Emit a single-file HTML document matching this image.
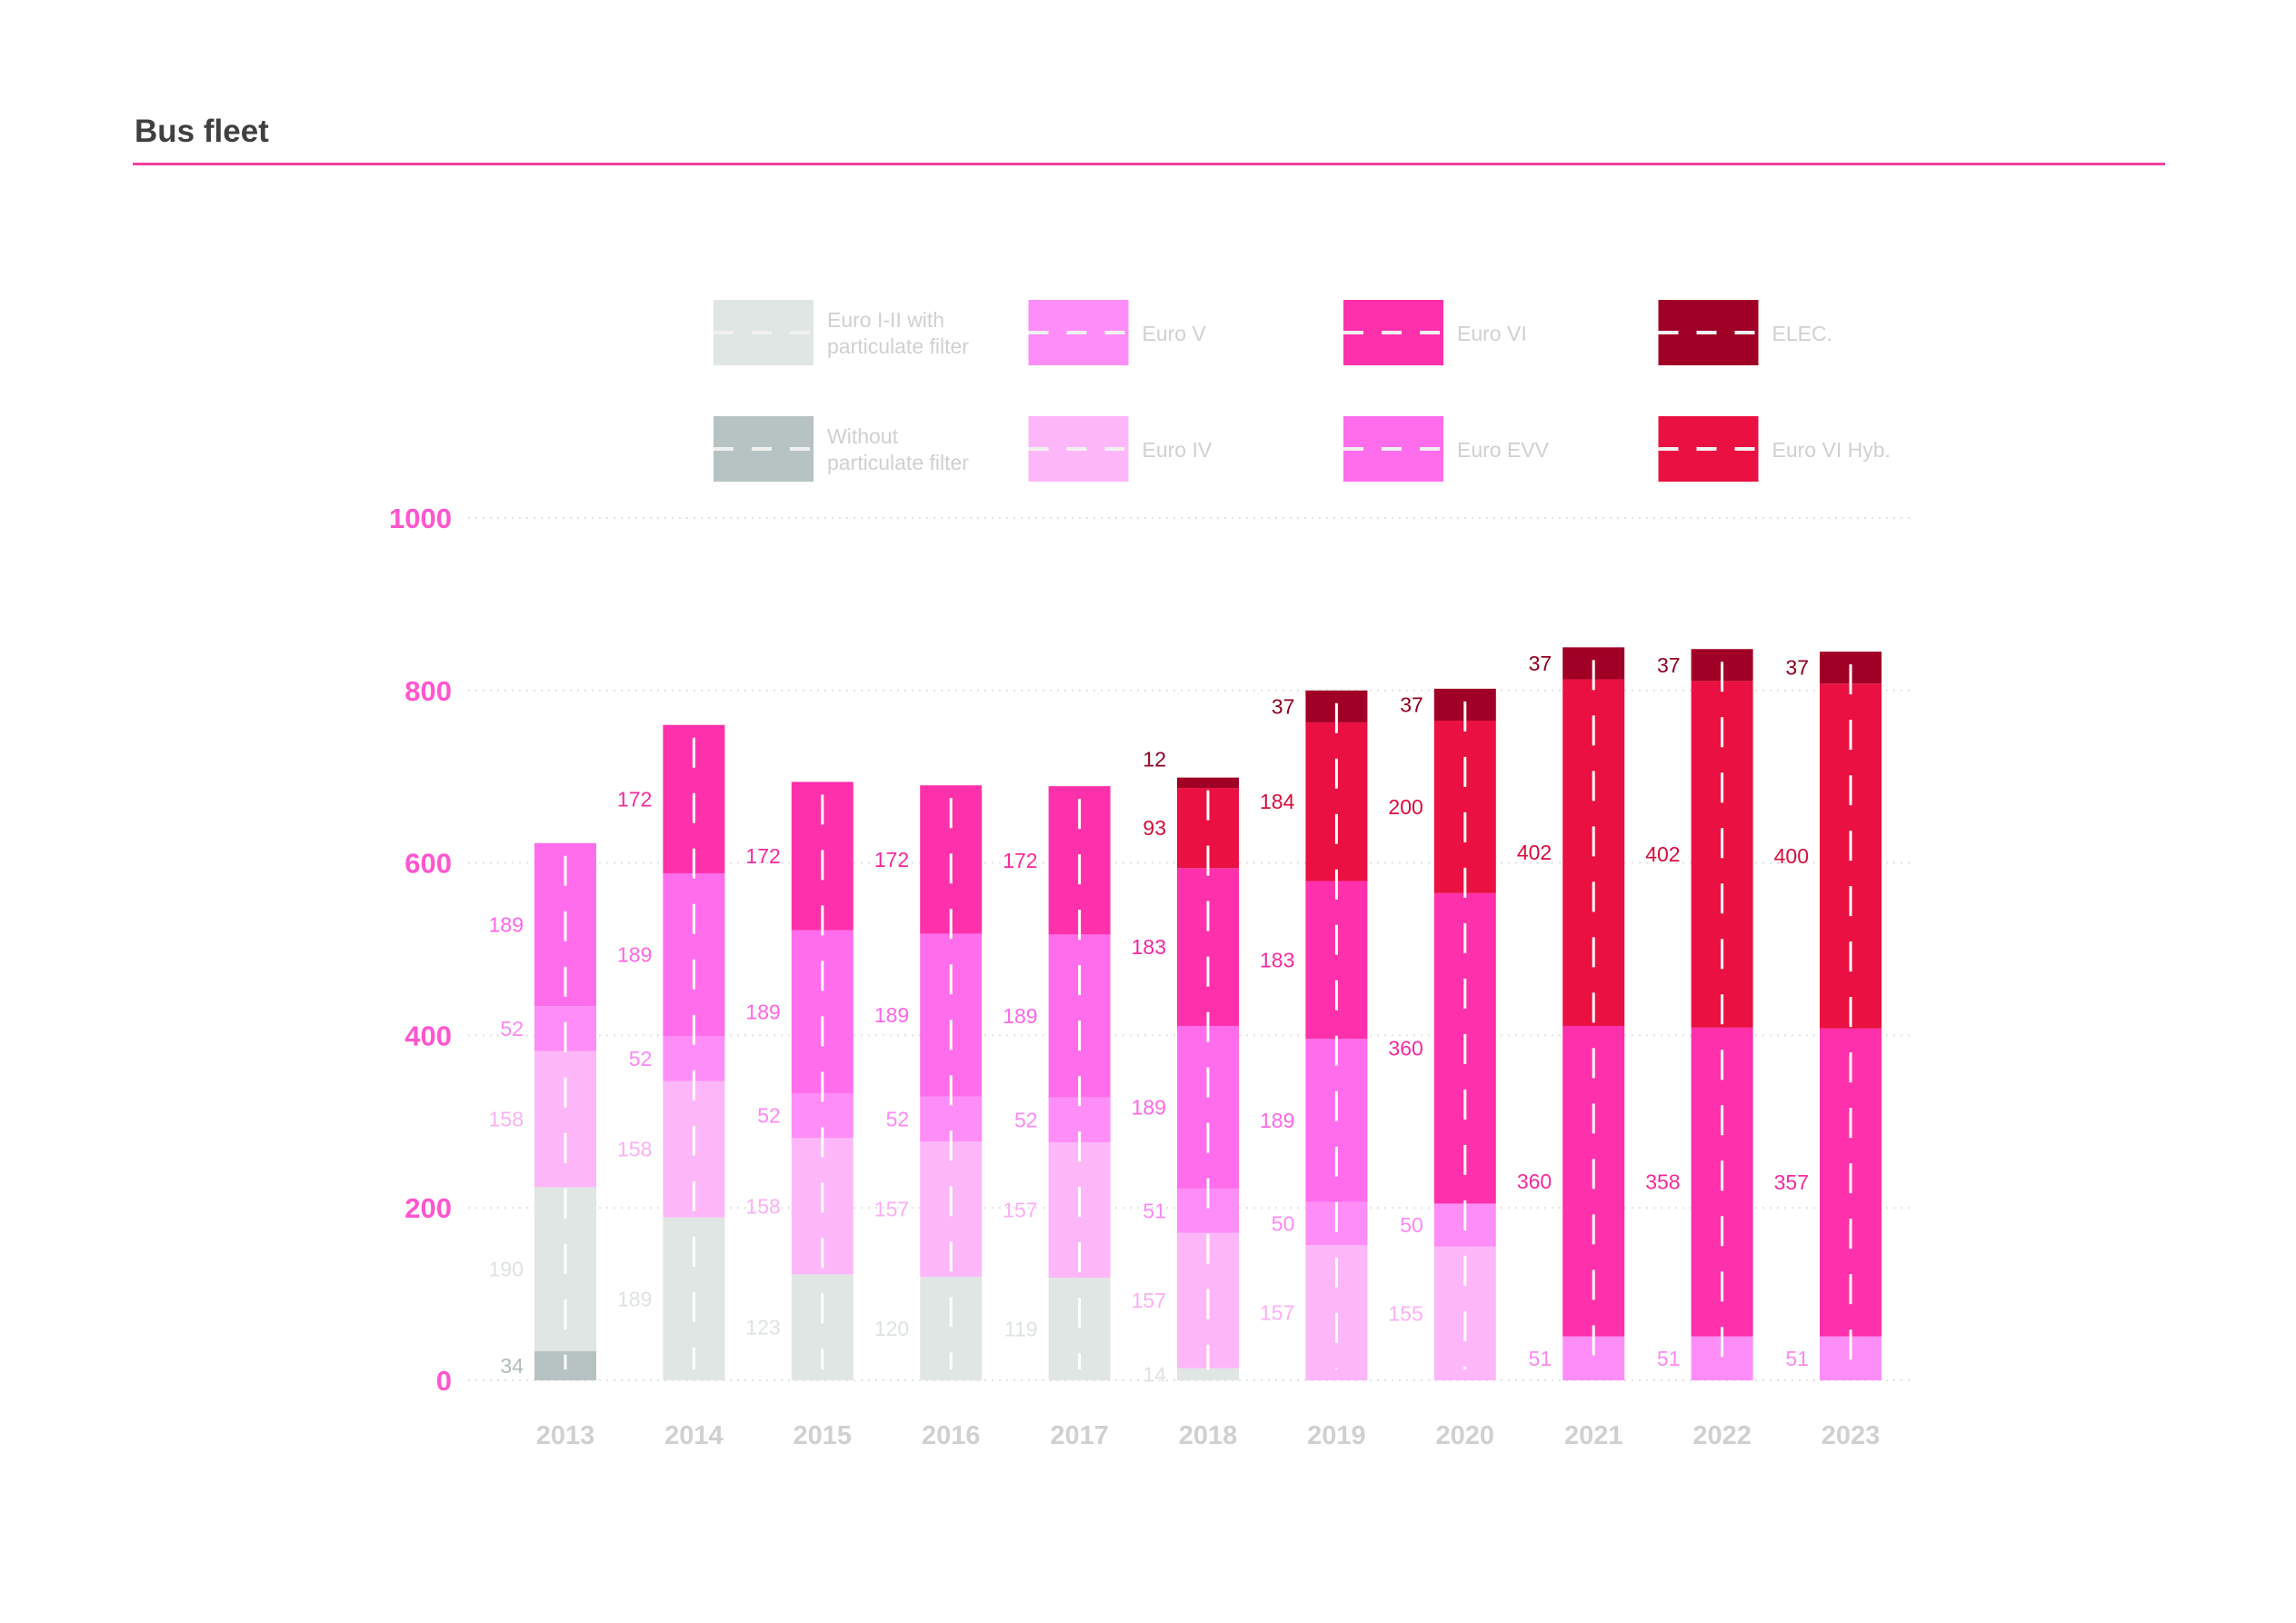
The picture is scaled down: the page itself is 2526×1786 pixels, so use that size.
<!DOCTYPE html>
<html><head><meta charset="utf-8"><style>
html,body{margin:0;padding:0;background:#fff}
svg{display:block}
text{font-family:"Liberation Sans",sans-serif}
</style></head><body>
<svg id="s" width="2526" height="1786" viewBox="0 0 2526 1786" xmlns="http://www.w3.org/2000/svg">
<text x="148" y="156" font-size="35" font-weight="bold" fill="#404040">Bus fleet</text>
<rect x="146" y="179" width="2236" height="3" fill="#f0409f"/>
<g id="g"></g>
</svg>
<script>
var NS="http://www.w3.org/2000/svg",g=document.getElementById('g');
function el(t,a,txt){var e=document.createElementNS(NS,t);for(var k in a)e.setAttribute(k,a[k]);if(txt!==undefined)e.textContent=txt;g.appendChild(e);return e;}
var C=["#b7c3c2","#dfe6e3","#fdb7f9","#ff8df8","#ff6ded","#ff30ac","#ea1041","#a10026"];
var LC=["#b0bbba","#dde3e1","#fbb0f5","#ff88f4","#ff66e6","#f52a9f","#d80c3b","#8f0020"];
var leg=[[0,1,["Euro I-II with","particulate filter"]],[1,3,["Euro V"]],[2,5,["Euro VI"]],[3,7,["ELEC."]],
[0,0,["Without","particulate filter"]],[1,2,["Euro IV"]],[2,4,["Euro EVV"]],[3,6,["Euro VI Hyb."]]];
leg.forEach(function(l,i){var x=785+l[0]*346.5,y=i<4?330:458;
el('rect',{x:x,y:y,width:110,height:72,fill:C[l[1]]});
el('line',{x1:x,y1:y+36,x2:x+110,y2:y+36,stroke:"#f0f0f0","stroke-width":4,"stroke-dasharray":"22 20"});
var t=l[2];if(t.length==1)el('text',{x:x+125,y:y+45,"font-size":23,fill:"#d0d0d0"},t[0]);
else{el('text',{x:x+125,y:y+30,"font-size":23,fill:"#d0d0d0"},t[0]);el('text',{x:x+125,y:y+59,"font-size":23,fill:"#d0d0d0"},t[1]);}
});
var y0=1519,k=0.949;
for(var v=0;v<=1000;v+=200){var y=y0-v*k;
el('line',{x1:515,y1:y,x2:2105,y2:y,stroke:"#e2e2e2","stroke-width":2,"stroke-dasharray":"2 6"});
el('text',{x:497,y:y+11,"font-size":31,"font-weight":"bold",fill:"#ff55cf","text-anchor":"end"},v);}
var D=[
[34,190,158,52,189,0,0,0],
[0,189,158,52,189,172,0,0],
[0,123,158,52,189,172,0,0],
[0,120,157,52,189,172,0,0],
[0,119,157,52,189,172,0,0],
[0,14,157,51,189,183,93,12],
[0,0,157,50,189,183,184,37],
[0,0,155,50,0,360,200,37],
[0,0,0,51,0,360,402,37],
[0,0,0,51,0,358,402,37],
[0,0,0,51,0,357,400,37]];
D.forEach(function(d,i){var cx=622+i*141.4,bl=cx-34,cum=0;
d.forEach(function(v,j){if(!v)return;var yt=y0-(cum+v)*k,h=v*k;
el('rect',{x:bl,y:yt,width:68,height:h,fill:C[j]});
var ly=yt+h/2+8;if(v<13)ly=yt-12;
el('text',{x:bl-12,y:ly,"font-size":23,fill:LC[j],"text-anchor":"end"},v);
cum+=v;});
var top=y0-cum*k;
el('line',{x1:cx,y1:top+14,x2:cx,y2:y0-12,stroke:"#ffffff","stroke-width":3,"stroke-dasharray":"33 28"});
el('text',{x:cx,y:1589,"font-size":29,"font-weight":"bold",fill:"#d0d0d0","text-anchor":"middle"},2013+i);
});
</script>
</body></html>
